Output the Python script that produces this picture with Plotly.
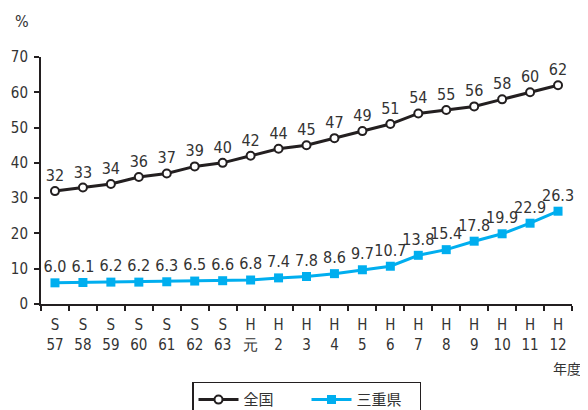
import plotly.graph_objects as go

categories = ["S<br>57", "S<br>58", "S<br>59", "S<br>60", "S<br>61", "S<br>62", "S<br>63",
              "H<br>元", "H<br>2", "H<br>3", "H<br>4", "H<br>5", "H<br>6", "H<br>7",
              "H<br>8", "H<br>9", "H<br>10", "H<br>11", "H<br>12"]
zenkoku = [32, 33, 34, 36, 37, 39, 40, 42, 44, 45, 47, 49, 51, 54, 55, 56, 58, 60, 62]
mie = [6.0, 6.1, 6.2, 6.2, 6.3, 6.5, 6.6, 6.8, 7.4, 7.8, 8.6, 9.7, 10.7, 13.8, 15.4, 17.8, 19.9, 22.9, 26.3]
mie_labels = [f"{v:.1f}" for v in mie]
zenkoku_labels = [str(v) for v in zenkoku]

FONT = "DejaVu Sans Condensed, Liberation Sans Narrow, Liberation Sans, sans-serif"
JP = "Noto Sans CJK JP"
TXT = "#333333"

fig = go.Figure()
fig.add_trace(go.Scatter(
    x=categories, y=zenkoku, name="全国", mode="lines+markers+text",
    text=zenkoku_labels, textposition="top center",
    textfont=dict(family=FONT, size=16, color=TXT),
    line=dict(color="#231f20", width=3),
    marker=dict(symbol="circle", size=8, color="white", line=dict(color="#231f20", width=2)),
    cliponaxis=False,
))
fig.add_trace(go.Scatter(
    x=categories, y=mie, name="三重県", mode="lines+markers+text",
    text=mie_labels, textposition="top center",
    textfont=dict(family=FONT, size=16, color=TXT),
    line=dict(color="#00aeef", width=3),
    marker=dict(symbol="square", size=9, color="#00aeef"),
    cliponaxis=False,
))

fig.update_layout(
    width=580, height=402,
    margin=dict(l=33, r=16, t=49, b=106, autoexpand=False),
    paper_bgcolor="white", plot_bgcolor="white",
    font=dict(family=FONT, size=16, color=TXT),
    showlegend=True,
    legend=dict(orientation="h", x=0.5, xanchor="center", xref="paper",
                y=0.07, yanchor="top", yref="container",
                bordercolor="#231f20", borderwidth=1.5,
                font=dict(family=JP, size=15, color=TXT),
                itemwidth=40, entrywidth=58, tracegroupgap=0),
    xaxis=dict(
        type="category", range=[-0.5, 18.5], showgrid=False, automargin=False,
        showline=True, linecolor="#231f20", linewidth=2,
        ticks="outside", tickson="boundaries", ticklen=5, tickcolor="#231f20", tickwidth=1.5,
        tickfont=dict(family=FONT, size=15, color=TXT),
        tickangle=0, ticklabelstandoff=6,
    ),
    yaxis=dict(
        range=[0, 70], dtick=10, showgrid=False, zeroline=False, automargin=False,
        showline=True, linecolor="#231f20", linewidth=2,
        ticks="outside", ticklen=5, tickcolor="#231f20", tickwidth=1.5,
        tickfont=dict(family=FONT, size=15, color=TXT),
        ticklabelstandoff=3,
    ),
    annotations=[
        dict(text="%", xref="paper", yref="paper", x=-0.035, y=1.142, showarrow=False,
             xanchor="center", yanchor="middle", font=dict(family=FONT, size=16, color=TXT)),
        dict(text="年度", xref="paper", yref="paper", x=1.02, y=-0.26, showarrow=False,
             xanchor="right", yanchor="middle", font=dict(family=JP, size=14, color=TXT)),
    ],
)

fig.write_html("out.html")
